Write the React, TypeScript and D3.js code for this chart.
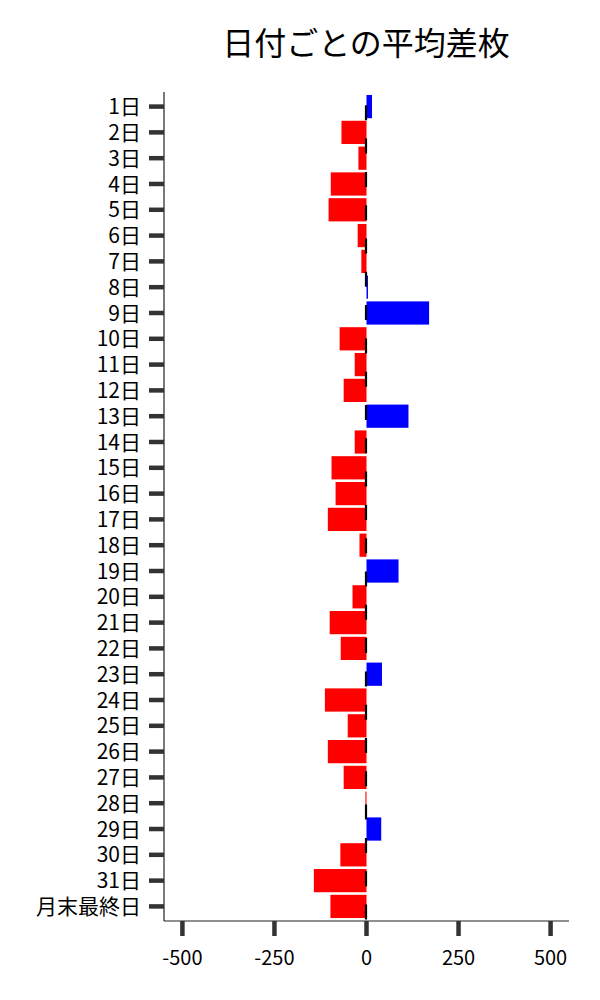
import React from 'react';
import * as d3 from 'd3';

const days = [
  '1日', '2日', '3日', '4日', '5日', '6日', '7日', '8日', '9日', '10日',
  '11日', '12日', '13日', '14日', '15日', '16日', '17日', '18日', '19日', '20日',
  '21日', '22日', '23日', '24日', '25日', '26日', '27日', '28日', '29日', '30日',
  '31日', '月末最終日',
];

const avgDiff = [
  15, -68, -22, -97, -103, -24, -14, 4, 170, -73,
  -32, -62, 114, -32, -95, -84, -105, -19, 87, -38,
  -100, -70, 42, -113, -51, -105, -62, -3, 40, -71,
  -143, -98,
];

const xTicks = [-500, -250, 0, 250, 500];

const width = 600;
const height = 1000;
const margin = { top: 92, right: 31, bottom: 79, left: 164 };
const font = '"Noto Sans CJK JP", "Noto Sans", sans-serif';

export default function App() {
  const x = d3.scaleLinear()
    .domain([-550, 550])
    .range([margin.left, width - margin.right]);

  const y = d3.scaleBand<string>()
    .domain(days)
    .range([margin.top, height - margin.bottom])
    .paddingInner(0.1)
    .paddingOuter(0.115);

  const x0 = x(0);
  const bottom = height - margin.bottom;

  return (
    <svg
      width={width}
      height={height}
      style={{ position: 'absolute', left: 0, top: 0, background: '#fff' }}
      fontFamily={font}
    >
      {/* Title */}
      <text x={366} y={55} textAnchor="middle" fontSize={32} fill="#000">
        日付ごとの平均差枚
      </text>

      {/* Bars */}
      {avgDiff.map((v, i) => (
        <rect
          key={days[i]}
          x={Math.min(x(v), x0)}
          y={y(days[i])}
          width={Math.abs(x(v) - x0)}
          height={y.bandwidth()}
          fill={v >= 0 ? '#0000ff' : '#ff0000'}
        />
      ))}

      {/* Zero line */}
      <line
        x1={x0 - 0.5}
        x2={x0 - 0.5}
        y1={margin.top}
        y2={bottom}
        stroke="#000"
        strokeWidth={2.2}
        strokeDasharray="15 18.3"
        strokeDashoffset={20}
      />

      {/* Y axis */}
      <line x1={margin.left} x2={margin.left} y1={margin.top} y2={bottom} stroke="#222" strokeWidth={1.2} />
      {days.map((d) => {
        const cy = (y(d) ?? 0) + y.bandwidth() / 2;
        return (
          <g key={d}>
            <line x1={margin.left - 15} x2={margin.left} y1={cy} y2={cy} stroke="#333" strokeWidth={4.5} />
            <text x={141} y={cy} dy="0.36em" textAnchor="end" fontSize={21} fill="#000">
              {d}
            </text>
          </g>
        );
      })}

      {/* X axis */}
      <line x1={margin.left} x2={width - margin.right} y1={bottom} y2={bottom} stroke="#222" strokeWidth={1.2} />
      {xTicks.map((t) => (
        <g key={t}>
          <line x1={x(t)} x2={x(t)} y1={bottom} y2={bottom + 15} stroke="#333" strokeWidth={4.5} />
          <text x={x(t)} y={965} textAnchor="middle" fontSize={20} fill="#000">
            {t}
          </text>
        </g>
      ))}
    </svg>
  );
}
